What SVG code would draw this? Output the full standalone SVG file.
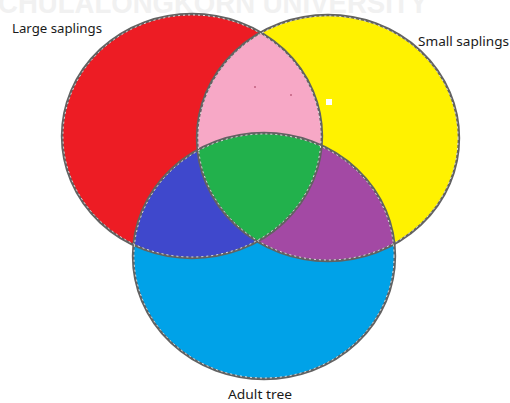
<svg xmlns="http://www.w3.org/2000/svg" xmlns:xlink="http://www.w3.org/1999/xlink" width="510" height="403" viewBox="0 0 510 403">
  <style>
    .label { font-family: "Noto Sans", "Liberation Sans", sans-serif; font-size: 13px; fill: #1a1a1a; }
    .wm { font-family: "Liberation Sans", "DejaVu Sans", sans-serif; font-weight: bold; font-size: 30px; fill: #f1f1f1; }
    .edge { fill: none; stroke: #626262; stroke-width: 2.4; }
    .dash { fill: none; stroke: #ffffff; stroke-width: 0.8; stroke-dasharray: 2 3; }
  </style>
  <defs>
    <ellipse id="eRed" cx="192" cy="136" rx="130" ry="122"/>
    <ellipse id="eYellow" cx="328" cy="138" rx="131" ry="123"/>
    <ellipse id="eBlue" cx="264" cy="256" rx="131" ry="123"/>
    <clipPath id="cRed"><use xlink:href="#eRed"/></clipPath>
    <clipPath id="cYellow"><use xlink:href="#eYellow"/></clipPath>
    <clipPath id="cBlue"><use xlink:href="#eBlue"/></clipPath>
  </defs>
  <rect width="510" height="403" fill="#ffffff"/>
  <text class="wm" x="-2" y="13" textLength="430" lengthAdjust="spacingAndGlyphs">CHULALONGKORN UNIVERSITY</text>

  <g id="node-large-saplings">
    <use xlink:href="#eRed" fill="#ED1C24"/>
    <text class="label" x="12" y="33" textLength="90" lengthAdjust="spacingAndGlyphs">Large saplings</text>
  </g>
  <g id="node-small-saplings">
    <use xlink:href="#eYellow" fill="#FFF200"/>
    <text class="label" x="418" y="46" textLength="91" lengthAdjust="spacingAndGlyphs">Small saplings</text>
  </g>
  <g id="node-adult-tree">
    <use xlink:href="#eBlue" fill="#00A2E8"/>
    <text class="label" x="228" y="399" textLength="64" lengthAdjust="spacingAndGlyphs">Adult tree</text>
  </g>

  <g id="overlaps">
    <use xlink:href="#eRed" fill="#F7A8C6" clip-path="url(#cYellow)"/>
    <use xlink:href="#eRed" fill="#3F48CC" clip-path="url(#cBlue)"/>
    <use xlink:href="#eYellow" fill="#A349A4" clip-path="url(#cBlue)"/>
    <g clip-path="url(#cYellow)">
      <use xlink:href="#eRed" fill="#22B14C" clip-path="url(#cBlue)"/>
    </g>
    <circle cx="255" cy="87" r="1" fill="#c0607f"/>
    <circle cx="291" cy="95" r="1" fill="#c0607f"/>
    <rect x="326" y="99" width="6" height="6" fill="#ffffff"/>
  </g>

  <g id="connectors">
    <use xlink:href="#eRed" class="edge"/>
    <use xlink:href="#eYellow" class="edge"/>
    <use xlink:href="#eBlue" class="edge"/>
    <ellipse class="dash" cx="192" cy="136" rx="129" ry="121"/>
    <ellipse class="dash" cx="328" cy="138" rx="130" ry="122"/>
    <ellipse class="dash" cx="264" cy="256" rx="130" ry="122"/>
  </g>
</svg>
